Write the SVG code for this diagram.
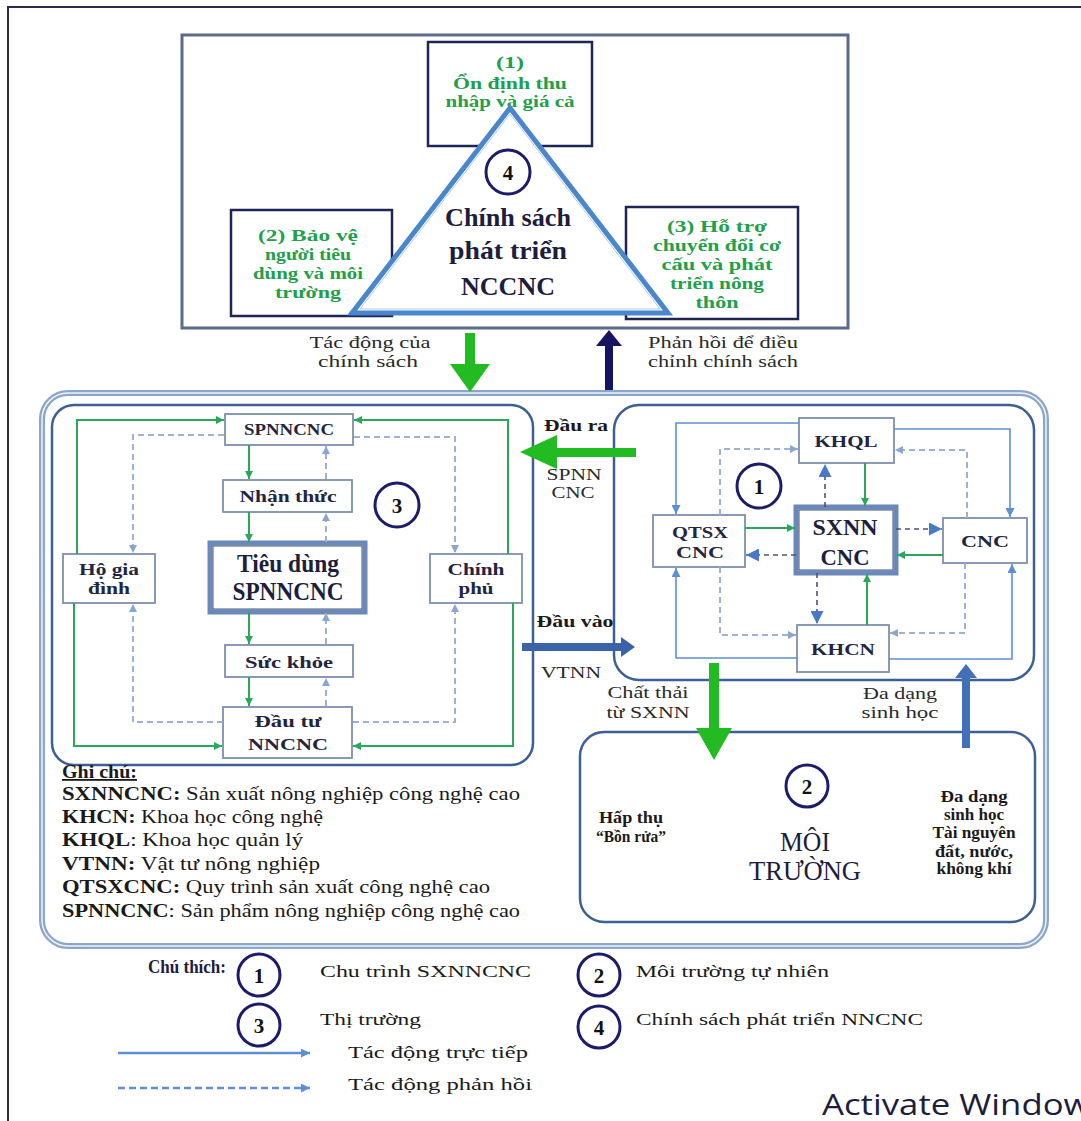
<svg xmlns="http://www.w3.org/2000/svg" width="1081" height="1121" viewBox="0 0 1081 1121">
<defs>
<style>
text{font-family:"Liberation Serif","Times New Roman",serif;fill:#1d1d3d}
.g{fill:#1fa04a;font-weight:bold;font-size:17px;text-anchor:middle}
.n{font-weight:bold;font-size:17px;text-anchor:middle;fill:#23253f}
.t{font-size:16px;text-anchor:middle;fill:#2a2a2a}
.tb{font-size:16px;font-weight:bold;text-anchor:middle;fill:#1a1a1a}
.note{font-size:18px;fill:#1a1a1a}
.leg{font-size:17px;fill:#1a1a1a}
.box{fill:#fff;stroke:#7d8fb0;stroke-width:1.8}
.pbox{fill:#fff;stroke:#1e2552;stroke-width:2.5}
.gl{fill:none;stroke:#2aa85a;stroke-width:2}
.bl{fill:none;stroke:#5e8fd4;stroke-width:1.6}
.dl{fill:none;stroke:#9db1d0;stroke-width:2;stroke-dasharray:6 4}
.dd{fill:none;stroke:#4a5474;stroke-width:1.6;stroke-dasharray:5 4}
.circ{fill:#fff;stroke:#1c1c6a;stroke-width:3}
.num{font-weight:bold;font-size:21px;text-anchor:middle;fill:#111}
</style>
<marker id="mg" viewBox="0 0 10 10" refX="10" refY="5" markerWidth="8" markerHeight="8" markerUnits="userSpaceOnUse" orient="auto"><path d="M0,0 L10,5 L0,10 z" fill="#2aa85a"/></marker>
<marker id="mb" viewBox="0 0 10 10" refX="10" refY="5" markerWidth="9" markerHeight="9" markerUnits="userSpaceOnUse" orient="auto"><path d="M0,0 L10,5 L0,10 z" fill="#5e8fd4"/></marker>
<marker id="ml" viewBox="0 0 10 10" refX="10" refY="5" markerWidth="8" markerHeight="8" markerUnits="userSpaceOnUse" orient="auto"><path d="M0,0 L10,5 L0,10 z" fill="#8aa6d0"/></marker>
<marker id="mk" viewBox="0 0 10 10" refX="10" refY="5" markerWidth="13" markerHeight="13" markerUnits="userSpaceOnUse" orient="auto"><path d="M0,0 L10,5 L0,10 z" fill="#4a78c8"/></marker>
</defs>
<rect width="1081" height="1121" fill="#fff"/>
<rect x="8" y="7" width="1100" height="1140" fill="none" stroke="#2a2a50" stroke-width="2"/>

<!-- Policy area -->
<g id="policy">
<rect x="182" y="35" width="666" height="293" fill="#fff" stroke="#5d6b8a" stroke-width="3"/>
</g>
<g id="p1">
<rect class="pbox" x="428" y="42" width="164" height="104"/>
<text class="g" x="510" y="68" textLength="28" lengthAdjust="spacingAndGlyphs">(1)</text>
<text class="g" x="510" y="89" textLength="114" lengthAdjust="spacingAndGlyphs">Ổn định thu</text>
<text class="g" x="510" y="107" textLength="129" lengthAdjust="spacingAndGlyphs">nhập và giá cả</text>
</g>
<g id="p2">
<rect class="pbox" x="231" y="210" width="161" height="106"/>
<text class="g" x="308" y="241" textLength="100" lengthAdjust="spacingAndGlyphs">(2) Bảo vệ</text>
<text class="g" x="308" y="260" textLength="86" lengthAdjust="spacingAndGlyphs">người tiêu</text>
<text class="g" x="308" y="279" textLength="110" lengthAdjust="spacingAndGlyphs">dùng và môi</text>
<text class="g" x="308" y="298" textLength="66" lengthAdjust="spacingAndGlyphs">trường</text>
</g>
<g id="p3">
<rect class="pbox" x="626" y="207" width="172" height="112"/>
<text class="g" x="717" y="232" textLength="100" lengthAdjust="spacingAndGlyphs">(3) Hỗ trợ</text>
<text class="g" x="717" y="251" textLength="128" lengthAdjust="spacingAndGlyphs">chuyển đổi cơ</text>
<text class="g" x="717" y="270" textLength="111" lengthAdjust="spacingAndGlyphs">cấu và phát</text>
<text class="g" x="717" y="289" textLength="94" lengthAdjust="spacingAndGlyphs">triển nông</text>
<text class="g" x="717" y="308" textLength="43" lengthAdjust="spacingAndGlyphs">thôn</text>
</g>
<g id="p4">
<polygon points="510,108 352,313 668,313" fill="#fff" stroke="#4a86cc" stroke-width="5" stroke-linejoin="miter"/>
<polygon points="510,114 360,309 660,309" fill="none" stroke="#a9cbee" stroke-width="1"/>
<circle class="circ" cx="508" cy="172" r="22"/>
<text class="num" x="508" y="180">4</text>
<text x="508" y="226" font-size="26" font-weight="bold" text-anchor="middle" fill="#1d1d4a" textLength="126" lengthAdjust="spacingAndGlyphs">Chính sách</text>
<text x="508" y="259" font-size="26" font-weight="bold" text-anchor="middle" fill="#1d1d4a" textLength="118" lengthAdjust="spacingAndGlyphs">phát triển</text>
<text x="508" y="295" font-size="26" font-weight="bold" text-anchor="middle" fill="#1d1d4a" textLength="94" lengthAdjust="spacingAndGlyphs">NCCNC</text>
</g>

<!-- outer system box -->
<g id="system">
<rect x="42" y="393" width="1004" height="553" rx="26" fill="none" stroke="#8aa6c8" stroke-width="6"/>
<rect x="42" y="393" width="1004" height="553" rx="26" fill="none" stroke="#eef3fa" stroke-width="1.5"/>
</g>

<!-- market box -->
<g id="market">
<rect x="52" y="405" width="481" height="360" rx="22" fill="#fff" stroke="#3e5f93" stroke-width="2.5"/>
<circle class="circ" cx="397" cy="505" r="22"/>
<text class="num" x="397" y="513">3</text>
</g>
<g id="spnncnc">
<rect class="box" x="225" y="414" width="128" height="31"/>
<text class="n" x="289" y="435" textLength="90" lengthAdjust="spacingAndGlyphs">SPNNCNC</text>
</g>
<g id="nhanthuc">
<rect class="box" x="223" y="480" width="129" height="32"/>
<text class="n" x="288" y="502" textLength="97" lengthAdjust="spacingAndGlyphs">Nhận thức</text>
</g>
<g id="tieudung">
<rect x="210" y="543" width="155" height="69" fill="#fff" stroke="#6a88b8" stroke-width="5"/>
<rect x="213" y="546" width="149" height="63" fill="none" stroke="#3a5584" stroke-width="1"/>
<text x="288" y="572" font-size="25" font-weight="bold" text-anchor="middle" fill="#1d1d4a" textLength="102" lengthAdjust="spacingAndGlyphs">Tiêu dùng</text>
<text x="288" y="600" font-size="25" font-weight="bold" text-anchor="middle" fill="#1d1d4a" textLength="111" lengthAdjust="spacingAndGlyphs">SPNNCNC</text>
</g>
<g id="suckhoe">
<rect class="box" x="225" y="645" width="128" height="32"/>
<text class="n" x="289" y="668" textLength="88" lengthAdjust="spacingAndGlyphs">Sức khỏe</text>
</g>
<g id="dautu">
<rect class="box" x="223" y="707" width="129" height="51"/>
<text class="n" x="288" y="727" textLength="67" lengthAdjust="spacingAndGlyphs">Đầu tư</text>
<text class="n" x="288" y="750" textLength="80" lengthAdjust="spacingAndGlyphs">NNCNC</text>
</g>
<g id="hogiadinh">
<rect class="box" x="63" y="554" width="92" height="49"/>
<text class="n" x="109" y="575" textLength="60" lengthAdjust="spacingAndGlyphs">Hộ gia</text>
<text class="n" x="109" y="594" textLength="42" lengthAdjust="spacingAndGlyphs">đình</text>
</g>
<g id="chinhphu">
<rect class="box" x="430" y="554" width="92" height="49"/>
<text class="n" x="476" y="575" textLength="57" lengthAdjust="spacingAndGlyphs">Chính</text>
<text class="n" x="476" y="594" textLength="35" lengthAdjust="spacingAndGlyphs">phủ</text>
</g>

<!-- production cycle box -->
<g id="cycle">
<rect x="614" y="405" width="420" height="275" rx="25" fill="#fff" stroke="#3e5f93" stroke-width="2.5"/>
<circle class="circ" cx="759" cy="486" r="22"/>
<text class="num" x="759" y="494">1</text>
</g>
<g id="khql">
<rect class="box" x="799" y="418" width="95" height="45"/>
<text class="n" x="846" y="447" textLength="63" lengthAdjust="spacingAndGlyphs">KHQL</text>
</g>
<g id="qtsx">
<rect class="box" x="653" y="515" width="92" height="52"/>
<text class="n" x="700" y="538" textLength="56" lengthAdjust="spacingAndGlyphs">QTSX</text>
<text class="n" x="700" y="558" textLength="48" lengthAdjust="spacingAndGlyphs">CNC</text>
</g>
<g id="sxnn">
<rect x="796" y="507" width="100" height="66" fill="#fff" stroke="#6a88b8" stroke-width="5"/>
<rect x="799" y="510" width="94" height="60" fill="none" stroke="#3a5584" stroke-width="1"/>
<text x="845" y="535" font-size="23" font-weight="bold" text-anchor="middle" fill="#1d1d4a" textLength="65" lengthAdjust="spacingAndGlyphs">SXNN</text>
<text x="845" y="565" font-size="23" font-weight="bold" text-anchor="middle" fill="#1d1d4a" textLength="49" lengthAdjust="spacingAndGlyphs">CNC</text>
</g>
<g id="cnc">
<rect class="box" x="943" y="518" width="84" height="45"/>
<text class="n" x="985" y="547" textLength="48" lengthAdjust="spacingAndGlyphs">CNC</text>
</g>
<g id="khcn">
<rect class="box" x="797" y="625" width="92" height="47"/>
<text class="n" x="843" y="655" textLength="64" lengthAdjust="spacingAndGlyphs">KHCN</text>
</g>

<!-- environment box -->
<g id="environment">
<rect x="580" y="732" width="455" height="190" rx="24" fill="#fff" stroke="#3e5f93" stroke-width="2.5"/>
<circle class="circ" cx="807" cy="786" r="21"/>
<text class="num" x="807" y="794">2</text>
<text x="805" y="851" font-size="27" text-anchor="middle" fill="#1d1d5a" textLength="50" lengthAdjust="spacingAndGlyphs">MÔI</text>
<text x="805" y="880" font-size="27" text-anchor="middle" fill="#1d1d5a" textLength="112" lengthAdjust="spacingAndGlyphs">TRƯỜNG</text>
<text class="tb" x="631" y="823" font-size="17" textLength="64" lengthAdjust="spacingAndGlyphs">Hấp thụ</text>
<text class="tb" x="631" y="842" font-size="17" textLength="70" lengthAdjust="spacingAndGlyphs">“Bồn rửa”</text>
<text class="tb" x="974" y="802" textLength="67" lengthAdjust="spacingAndGlyphs">Đa dạng</text>
<text class="tb" x="974" y="820" textLength="60" lengthAdjust="spacingAndGlyphs">sinh học</text>
<text class="tb" x="974" y="838" textLength="83" lengthAdjust="spacingAndGlyphs">Tài nguyên</text>
<text class="tb" x="974" y="857" textLength="78" lengthAdjust="spacingAndGlyphs">đất, nước,</text>
<text class="tb" x="974" y="874" textLength="75" lengthAdjust="spacingAndGlyphs">không khí</text>
</g>

<!-- connectors -->
<g id="connectors">
<rect x="465" y="333" width="10" height="32" fill="#22bb22"/>
<polygon points="450,364 490,364 470,392" fill="#22bb22"/>
<rect x="605" y="343" width="8" height="47" fill="#141460"/>
<polygon points="609,330 596,346 622,346" fill="#141460"/>
<path class="gl" d="M77,554 V420 H224" marker-end="url(#mg)"/>
<path class="gl" d="M74,603 V746 H222" marker-end="url(#mg)"/>
<path class="gl" d="M508,554 V420 H354" marker-end="url(#mg)"/>
<path class="gl" d="M513,603 V746 H353" marker-end="url(#mg)"/>
<path class="gl" d="M249,445 V479" marker-end="url(#mg)"/>
<path class="gl" d="M249,512 V542" marker-end="url(#mg)"/>
<path class="gl" d="M249,612 V644" marker-end="url(#mg)"/>
<path class="gl" d="M249,677 V706" marker-end="url(#mg)"/>
<path class="dl" d="M224,435 H133 V553" marker-end="url(#ml)"/>
<path class="dl" d="M354,437 H455 V553" marker-end="url(#ml)"/>
<path class="dl" d="M223,722 H133 V604" marker-end="url(#ml)"/>
<path class="dl" d="M353,722 H455 V604" marker-end="url(#ml)"/>
<path class="dl" d="M326,479 V446" marker-end="url(#ml)"/>
<path class="dl" d="M326,542 V513" marker-end="url(#ml)"/>
<path class="dl" d="M326,644 V613" marker-end="url(#ml)"/>
<path class="dl" d="M326,706 V678" marker-end="url(#ml)"/>
<path class="bl" d="M799,423 H676 V514" marker-end="url(#mb)"/>
<path class="bl" d="M894,429 H1010 V517" marker-end="url(#mb)"/>
<path class="bl" d="M797,658 H676 V568" marker-end="url(#mb)"/>
<path class="bl" d="M889,659 H1012 V564" marker-end="url(#mb)"/>
<path class="dl" d="M720,515 V449 H798" marker-end="url(#ml)"/>
<path class="dl" d="M967,518 V450 H895" marker-end="url(#ml)"/>
<path class="dl" d="M720,567 V635 H796" marker-end="url(#ml)"/>
<path class="dl" d="M965,563 V633 H890" marker-end="url(#ml)"/>
<path class="gl" d="M865,463 V506" marker-end="url(#mg)"/>
<path class="dd" d="M825,507 V464" marker-end="url(#mk)"/>
<path class="gl" d="M745,528 H795" marker-end="url(#mg)"/>
<path class="dd" d="M796,555 H746" marker-end="url(#mk)"/>
<path class="dd" d="M896,529 H942" marker-end="url(#mk)"/>
<path class="gl" d="M943,555 H897" marker-end="url(#mg)"/>
<path class="dd" d="M817,573 V624" marker-end="url(#mk)"/>
<path class="gl" d="M867,625 V574" marker-end="url(#mg)"/>
<rect x="555" y="448" width="81" height="9" fill="#22bb22"/>
<polygon points="520,452 557,435 557,469" fill="#22bb22"/>
<rect x="522" y="643" width="102" height="8" fill="#3b64a8"/>
<polygon points="635,647 621,637 621,657" fill="#3b64a8"/>
<rect x="709" y="663" width="10" height="66" fill="#22bb22"/>
<polygon points="696,728 732,728 714,760" fill="#22bb22"/>
<rect x="962" y="676" width="8" height="72" fill="#4170b8"/>
<polygon points="966,664 955,678 977,678" fill="#4170b8"/>
</g>

<!-- labels -->
<g id="labels">
<text class="t" x="370" y="348" textLength="121" lengthAdjust="spacingAndGlyphs">Tác động của</text>
<text class="t" x="368" y="367" textLength="100" lengthAdjust="spacingAndGlyphs">chính sách</text>
<text class="t" x="723" y="348" textLength="150" lengthAdjust="spacingAndGlyphs">Phản hồi để điều</text>
<text class="t" x="723" y="367" textLength="150" lengthAdjust="spacingAndGlyphs">chỉnh chính sách</text>
<text class="tb" x="576" y="431" textLength="64" lengthAdjust="spacingAndGlyphs">Đầu ra</text>
<text class="t" x="574" y="480" textLength="55" lengthAdjust="spacingAndGlyphs">SPNN</text>
<text class="t" x="573" y="498" textLength="43" lengthAdjust="spacingAndGlyphs">CNC</text>
<text class="tb" x="575" y="627" textLength="77" lengthAdjust="spacingAndGlyphs">Đầu vào</text>
<text class="t" x="571" y="678" textLength="60" lengthAdjust="spacingAndGlyphs">VTNN</text>
<text class="t" x="648" y="698" textLength="81" lengthAdjust="spacingAndGlyphs">Chất thải</text>
<text class="t" x="648" y="718" textLength="83" lengthAdjust="spacingAndGlyphs">từ SXNN</text>
<text class="t" x="900" y="699" textLength="74" lengthAdjust="spacingAndGlyphs">Đa dạng</text>
<text class="t" x="900" y="718" textLength="77" lengthAdjust="spacingAndGlyphs">sinh học</text>
</g>

<!-- notes -->
<g id="notes">
<text class="note" x="62" y="778" font-weight="bold" text-decoration="underline" font-size="15" textLength="75" lengthAdjust="spacingAndGlyphs">Ghi chú:</text>
<text class="note" x="62" y="800" textLength="458" lengthAdjust="spacingAndGlyphs"><tspan font-weight="bold">SXNNCNC:</tspan> Sản xuất nông nghiệp công nghệ cao</text>
<text class="note" x="62" y="823" textLength="261" lengthAdjust="spacingAndGlyphs"><tspan font-weight="bold">KHCN:</tspan> Khoa học công nghệ</text>
<text class="note" x="62" y="846" textLength="241" lengthAdjust="spacingAndGlyphs"><tspan font-weight="bold">KHQL</tspan>: Khoa học quản lý</text>
<text class="note" x="62" y="870" textLength="258" lengthAdjust="spacingAndGlyphs"><tspan font-weight="bold">VTNN:</tspan> Vật tư nông nghiệp</text>
<text class="note" x="62" y="893" textLength="428" lengthAdjust="spacingAndGlyphs"><tspan font-weight="bold">QTSXCNC:</tspan> Quy trình sản xuất công nghệ cao</text>
<text class="note" x="62" y="917" textLength="458" lengthAdjust="spacingAndGlyphs"><tspan font-weight="bold">SPNNCNC</tspan>: Sản phẩm nông nghiệp công nghệ cao</text>
</g>

<!-- legend -->
<g id="legend">
<text x="148" y="973" font-size="18" font-weight="bold" fill="#1a1a1a" textLength="78" lengthAdjust="spacingAndGlyphs">Chú thích:</text>
<circle class="circ" cx="259" cy="975" r="21"/>
<text class="num" x="259" y="983">1</text>
<text class="leg" x="320" y="977" textLength="211" lengthAdjust="spacingAndGlyphs">Chu trình SXNNCNC</text>
<circle class="circ" cx="599" cy="975" r="21"/>
<text class="num" x="599" y="983">2</text>
<text class="leg" x="636" y="977" textLength="193" lengthAdjust="spacingAndGlyphs">Môi trường tự nhiên</text>
<circle class="circ" cx="259" cy="1025" r="21"/>
<text class="num" x="259" y="1033">3</text>
<text class="leg" x="320" y="1025" textLength="101" lengthAdjust="spacingAndGlyphs">Thị trường</text>
<circle class="circ" cx="599" cy="1027" r="21"/>
<text class="num" x="599" y="1035">4</text>
<text class="leg" x="636" y="1025" textLength="287" lengthAdjust="spacingAndGlyphs">Chính sách phát triển NNCNC</text>
<path d="M118,1053 H310" fill="none" stroke="#5e8fd4" stroke-width="2.5" marker-end="url(#mb)"/>
<text class="leg" x="348" y="1058" textLength="180" lengthAdjust="spacingAndGlyphs">Tác động trực tiếp</text>
<path d="M118,1088 H310" fill="none" stroke="#5e8fd4" stroke-width="2.5" stroke-dasharray="7 4" marker-end="url(#mb)"/>
<text class="leg" x="348" y="1090" textLength="184" lengthAdjust="spacingAndGlyphs">Tác động phản hồi</text>
<text x="822" y="1115" font-size="30" fill="#cacaca" style="font-family:'Open Sans','Noto Sans',sans-serif" textLength="285" lengthAdjust="spacingAndGlyphs">Activate Windows</text>
</g>
</svg>
